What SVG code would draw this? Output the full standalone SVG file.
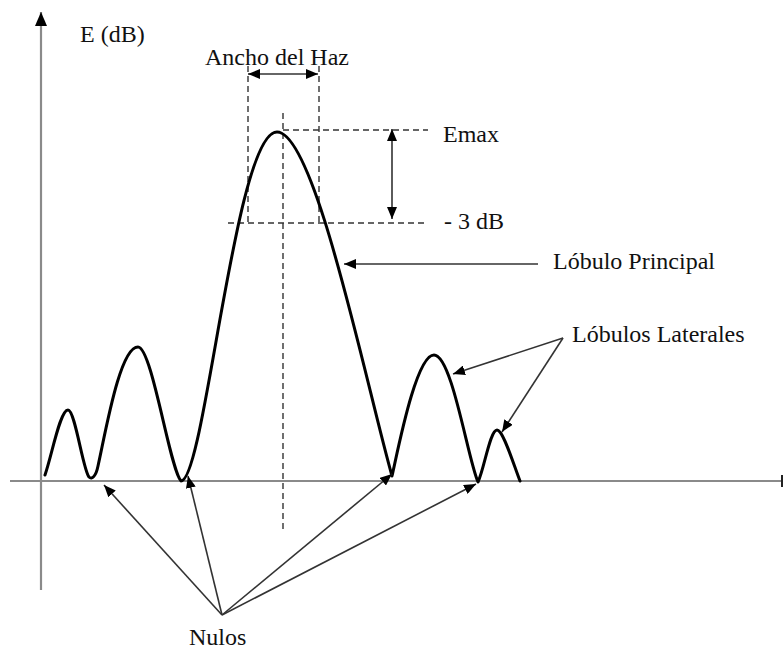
<svg xmlns="http://www.w3.org/2000/svg" width="783" height="650" viewBox="0 0 783 650">
<defs>
<style>
.lbl{font-family:"Liberation Serif","Times New Roman",serif;font-size:24px;fill:#111;}
.axis{stroke:#8a8a8a;stroke-width:2.2;fill:none;}
.dash{stroke:#333;stroke-width:1.4;stroke-dasharray:6,4;fill:none;}
.conn{stroke:#333;stroke-width:1.6;fill:none;}
.curve{stroke:#000;stroke-width:3;fill:none;stroke-linejoin:round;stroke-linecap:round;}
</style>
<marker id="ah" viewBox="0 0 12 10" refX="12" refY="5" markerWidth="12" markerHeight="10" markerUnits="userSpaceOnUse" orient="auto-start-reverse">
<path d="M0,0 L12,5 L0,10 Z" fill="#000"/>
</marker>
<marker id="axh" viewBox="0 0 14 12" refX="14" refY="6" markerWidth="14" markerHeight="12" markerUnits="userSpaceOnUse" orient="auto">
<path d="M0,0 L14,6 L0,12 Z" fill="#000"/>
</marker>
</defs>
<rect width="783" height="650" fill="#fff"/>
<g id="axes">
<line class="axis" x1="41" y1="590" x2="41" y2="12" marker-end="url(#axh)"/>
<line class="axis" x1="10" y1="481" x2="783" y2="481"/>
<rect x="781" y="475" width="2" height="12" fill="#222"/>
<text class="lbl" x="80" y="42">E (dB)</text>
</g>
<g id="guides">
<line class="dash" x1="248" y1="66" x2="248" y2="222"/>
<line class="dash" x1="319" y1="66" x2="319" y2="222"/>
<line class="dash" x1="283" y1="113" x2="283" y2="530"/>
<line class="dash" x1="283" y1="130" x2="428" y2="130"/>
<line class="dash" x1="228" y1="223" x2="428" y2="223"/>
</g>
<g id="pattern">
<path class="curve" d="M45,475 C52,455 60,410 68,410 C75,410 83,470 89,477 C92,480 96,476 98,466 C106,430 120,347 138,347 C152,347 170,470 181,481 C205,481 235,132 277,132 C315,132 365,380 392,476 C398,450 416,355 434,355 C452,355 468,460 478,482 C484,470 490,430 497,430 C503,430 512,460 520,481"/>
</g>
<g id="connectors">
<line class="conn" x1="248" y1="74" x2="318" y2="74" marker-start="url(#ah)" marker-end="url(#ah)"/>
<line class="conn" x1="392" y1="129" x2="392" y2="219" marker-start="url(#ah)" marker-end="url(#ah)"/>
<line class="conn" x1="538" y1="264" x2="344" y2="264" marker-end="url(#ah)"/>
<line class="conn" x1="563" y1="338" x2="453" y2="374" marker-end="url(#ah)"/>
<line class="conn" x1="563" y1="338" x2="502" y2="432" marker-end="url(#ah)"/>
<line class="conn" x1="222" y1="615" x2="104" y2="485" marker-end="url(#ah)"/>
<line class="conn" x1="222" y1="615" x2="188" y2="476" marker-end="url(#ah)"/>
<line class="conn" x1="222" y1="615" x2="392" y2="474" marker-end="url(#ah)"/>
<line class="conn" x1="222" y1="615" x2="476" y2="484" marker-end="url(#ah)"/>
</g>
<g id="label-ancho"><text class="lbl" x="205" y="65">Ancho del Haz</text></g>
<g id="label-emax"><text class="lbl" x="443" y="142">Emax</text></g>
<g id="label-3db"><text class="lbl" x="444" y="229">- 3 dB</text></g>
<g id="label-principal"><text class="lbl" x="553" y="269">Lóbulo Principal</text></g>
<g id="label-laterales"><text class="lbl" x="572" y="342">Lóbulos Laterales</text></g>
<g id="label-nulos"><text class="lbl" x="189" y="645">Nulos</text></g>
</svg>
